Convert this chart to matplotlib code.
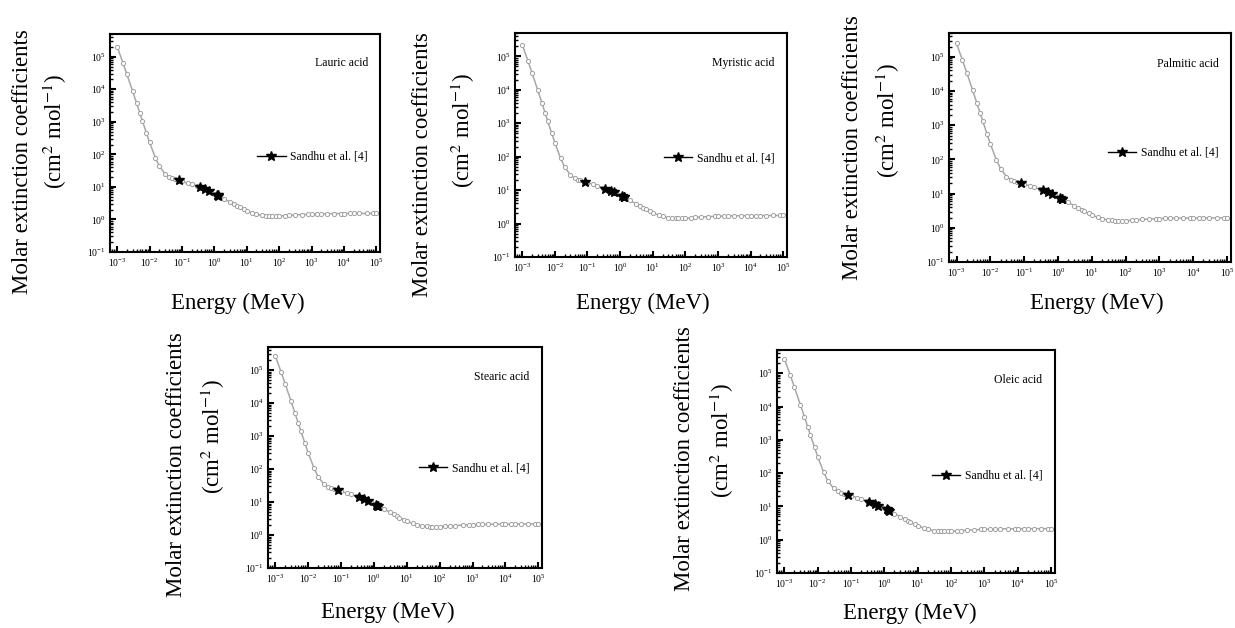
import matplotlib
matplotlib.use("Agg")
import matplotlib.pyplot as plt
from matplotlib.lines import Line2D
from matplotlib.ticker import LogLocator, LogFormatterMathtext, NullFormatter

plt.rcParams['font.family'] = ['Liberation Serif', 'DejaVu Serif']
plt.rcParams['mathtext.fontset'] = 'stix'

# ---------------- data ----------------
energy = [0.001, 0.0015, 0.002, 0.003, 0.004, 0.005, 0.006, 0.008, 0.01, 0.015,
          0.02, 0.03, 0.04, 0.05, 0.06, 0.08, 0.1, 0.15, 0.2, 0.3,
          0.4, 0.5, 0.6, 0.8, 1, 1.25, 1.5, 2, 3, 4,
          5, 6, 8, 10, 15, 20, 30, 40, 50, 60,
          80, 100, 150, 200, 300, 500, 800, 1000, 1500, 2000,
          3000, 5000, 8000, 10000, 15000, 20000, 30000, 50000, 80000, 100000]

lauric = [202200, 65370, 28600, 8676, 3664, 1867, 1075, 452.1, 235.3, 79.97,
          43.56, 25.03, 20.21, 18.19, 17.04, 15.66, 14.72, 13.11, 11.96, 10.38,
          9.292, 8.483, 7.844, 6.889, 6.193, 5.539, 5.042, 4.321, 3.456, 2.947,
          2.609, 2.370, 2.052, 1.853, 1.581, 1.447, 1.329, 1.285, 1.267, 1.262,
          1.265, 1.277, 1.309, 1.337, 1.376, 1.418, 1.450, 1.463, 1.481, 1.492,
          1.504, 1.515, 1.522, 1.524, 1.528, 1.530, 1.532, 1.534, 1.535, 1.536]

myristic = [225300, 72680, 31760, 9619, 4058, 2067, 1189, 500.5, 260.7, 89.05,
            48.82, 28.33, 22.98, 20.73, 19.44, 17.88, 16.82, 14.98, 13.67, 11.86,
            10.62, 9.695, 8.965, 7.873, 7.078, 6.330, 5.762, 4.938, 3.949, 3.367,
            2.980, 2.706, 2.343, 2.114, 1.803, 1.649, 1.514, 1.462, 1.442, 1.435,
            1.439, 1.452, 1.488, 1.519, 1.564, 1.612, 1.648, 1.662, 1.683, 1.695,
            1.709, 1.722, 1.730, 1.732, 1.736, 1.739, 1.741, 1.743, 1.744, 1.745]

palmitic = [248400, 79980, 34920, 10560, 4453, 2267, 1304, 548.9, 286.1, 98.13,
            54.08, 31.63, 25.75, 23.27, 21.84, 20.10, 18.91, 16.85, 15.38, 13.34,
            11.95, 10.91, 10.09, 8.857, 7.962, 7.121, 6.482, 5.555, 4.442, 3.786,
            3.351, 3.043, 2.633, 2.375, 2.024, 1.851, 1.698, 1.640, 1.616, 1.608,
            1.612, 1.627, 1.667, 1.702, 1.751, 1.805, 1.845, 1.862, 1.885, 1.899,
            1.914, 1.928, 1.937, 1.940, 1.945, 1.947, 1.950, 1.952, 1.954, 1.955]

stearic = [271500, 87290, 38080, 11510, 4848, 2467, 1419, 597.4, 311.6, 107.2,
           59.33, 34.92, 28.52, 25.81, 24.24, 22.32, 21.01, 18.71, 17.08, 14.82,
           13.27, 12.12, 11.21, 9.841, 8.847, 7.913, 7.202, 6.172, 4.934, 4.206,
           3.722, 3.379, 2.923, 2.637, 2.246, 2.053, 1.882, 1.817, 1.791, 1.782,
           1.786, 1.801, 1.846, 1.884, 1.939, 1.998, 2.043, 2.061, 2.087, 2.102,
           2.119, 2.135, 2.145, 2.148, 2.153, 2.156, 2.159, 2.162, 2.163, 2.164]

oleic = [271400, 87290, 38080, 11500, 4848, 2467, 1419, 597.0, 311.2, 106.9,
         59.01, 34.61, 28.22, 25.52, 23.95, 22.05, 20.75, 18.48, 16.87, 14.64,
         13.11, 11.97, 11.07, 9.718, 8.736, 7.814, 7.112, 6.095, 4.874, 4.155,
         3.678, 3.340, 2.890, 2.608, 2.224, 2.034, 1.867, 1.804, 1.779, 1.770,
         1.775, 1.791, 1.836, 1.874, 1.929, 1.989, 2.033, 2.051, 2.077, 2.092,
         2.109, 2.125, 2.135, 2.138, 2.143, 2.146, 2.149, 2.152, 2.153, 2.154]

exp_energy = [0.081, 0.356, 0.511, 0.662, 1.173, 1.275, 1.332]
lauric_exp = [15.9, 9.7, 8.5, 7.5, 5.8, 5.5, 5.4]
myristic_exp = [18.1, 11.0, 9.7, 8.5, 6.6, 6.25, 6.1]
palmitic_exp = [20.3, 12.4, 10.9, 9.6, 7.4, 7.0, 6.85]
stearic_exp = [22.5, 13.8, 12.1, 10.7, 8.2, 7.8, 7.6]
oleic_exp = [22.2, 13.6, 12.0, 10.6, 8.1, 7.7, 7.5]

names = ["Lauric acid", "Myristic acid", "Palmitic acid", "Stearic acid", "Oleic acid"]
theory = [lauric, myristic, palmitic, stearic, oleic]
experiment = [lauric_exp, myristic_exp, palmitic_exp, stearic_exp, oleic_exp]
legend_label = "Sandhu et al. [4]"
ylabel1 = "Molar extinction coefficients"
ylabel2 = "(cm$^{2}$ mol$^{-1}$)"
xlabel = "Energy (MeV)"

# ---------------- layout (pixels in a 1235x628 canvas) ----------------
W, H = 1235, 628
# (left, right, top, bottom)
boxes = [(110, 380, 34, 252), (515, 787, 33, 257), (949, 1231, 33, 262),
         (268, 542, 347, 568), (777, 1055, 350, 573)]
ylab1_pos = [(23, 162), (423, 165), (852, 148), (177, 465), (685, 459)]
ylab2_pos = [(55, 131), (463, 130), (888, 120), (213, 436), (722, 440)]
xlab_pos = [(238, 303), (643, 303), (1097, 303), (388, 612), (910, 613)]
leg_y = [0.436, 0.44, 0.476, 0.452, 0.435]

fig = plt.figure(figsize=(W / 100, H / 100), dpi=100)

for i in range(5):
    l, r, t, b = boxes[i]
    ax = fig.add_axes([l / W, 1 - b / H, (r - l) / W, (b - t) / H])
    ax.plot(energy, theory[i], '-o', color='#a8a8a8', lw=1.1, ms=3.0,
            mfc='white', mec='#a0a0a0', mew=0.7, zorder=2)
    ax.plot(exp_energy, experiment[i], linestyle='none', marker='*',
            color='black', ms=7.5, zorder=3)
    ax.set_xscale('log')
    ax.set_yscale('log')
    ax.set_xlim(6e-4, 1.3e5)
    ax.set_ylim(0.1, 5e5)
    ax.xaxis.set_major_locator(LogLocator(base=10, numticks=20))
    ax.yaxis.set_major_locator(LogLocator(base=10, numticks=20))
    ax.xaxis.set_minor_locator(LogLocator(base=10, subs=range(2, 10), numticks=20))
    ax.yaxis.set_minor_locator(LogLocator(base=10, subs=range(2, 10), numticks=20))
    ax.xaxis.set_major_formatter(LogFormatterMathtext())
    ax.yaxis.set_major_formatter(LogFormatterMathtext())
    ax.xaxis.set_minor_formatter(NullFormatter())
    ax.yaxis.set_minor_formatter(NullFormatter())
    ax.tick_params(which='major', direction='in', length=4, width=1.5,
                   labelsize=7, pad=3, top=False, right=False)
    ax.tick_params(which='minor', direction='in', length=2.5, width=1.0,
                   top=False, right=False)
    for s in ax.spines.values():
        s.set_linewidth(1.5)
    ax.text(0.955, 0.865, names[i], transform=ax.transAxes, ha='right',
            va='center', fontsize=8.5)
    handle = Line2D([], [], color='black', lw=1.0, marker='*', ms=7.5)
    ax.legend([handle], [legend_label], loc='center right',
              bbox_to_anchor=(0.955, leg_y[i]),
              frameon=False, fontsize=8.5, handlelength=2.4,
              handletextpad=0.4, borderpad=0, borderaxespad=0)

    x, y = ylab1_pos[i]
    fig.text(x / W, 1 - y / H, ylabel1, rotation=90, ha='center', va='center',
             fontsize=16.5)
    x, y = ylab2_pos[i]
    fig.text(x / W, 1 - y / H, ylabel2, rotation=90, ha='center', va='center',
             fontsize=16.5)
    x, y = xlab_pos[i]
    fig.text(x / W, 1 - y / H, xlabel, ha='center', va='center', fontsize=16.5)

fig.savefig("out.png", dpi=100)
